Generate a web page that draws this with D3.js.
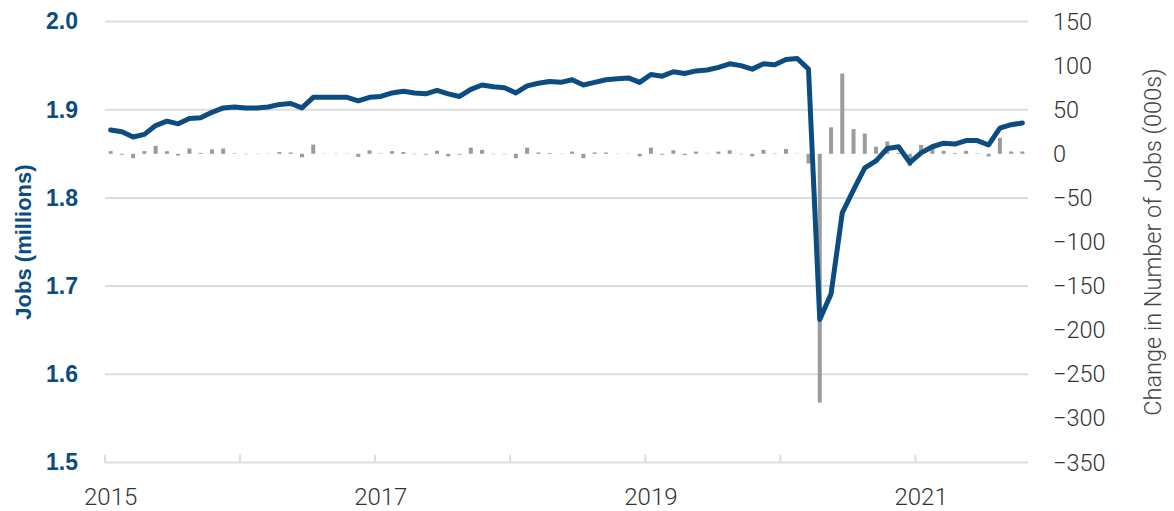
<!DOCTYPE html>
<html>
<head>
<meta charset="utf-8">
<script src="https://cdn.jsdelivr.net/npm/d3@7"></script>
<style>
  body { margin: 0; background: #fff; }
</style>
</head>
<body>
<div id="chart"></div>
<script>
// monthly categories, Jan 2015 - Oct 2021
const months = d3.timeMonth.range(new Date(2015, 0, 1), new Date(2021, 10, 1));

// total jobs (millions)
const jobs = [
  1.877, 1.875, 1.869, 1.872, 1.882, 1.887, 1.884, 1.890, 1.891, 1.897, 1.902, 1.903,
  1.902, 1.902, 1.903, 1.906, 1.907, 1.902, 1.914, 1.914, 1.914, 1.914, 1.910, 1.914,
  1.915, 1.919, 1.921, 1.919, 1.918, 1.922, 1.918, 1.915, 1.923, 1.928, 1.926, 1.925,
  1.919, 1.927, 1.930, 1.932, 1.931, 1.934, 1.928, 1.931, 1.934, 1.935, 1.936, 1.931,
  1.940, 1.938, 1.943, 1.941, 1.944, 1.945, 1.948, 1.952, 1.950, 1.946, 1.952, 1.951,
  1.957, 1.958, 1.946, 1.662, 1.691, 1.783, 1.809, 1.834, 1.842, 1.856, 1.858, 1.840,
  1.851, 1.858, 1.862, 1.861, 1.865, 1.865, 1.860, 1.879, 1.883, 1.885
];

// monthly change in jobs (000s)
const change = [
  3, -1, -5, 3, 9, 3, -2, 6, 1, 5, 6, 0.5,
  -0.5, 0.3, 0.3, 2, 1.5, -4, 10.5, 0.3, 0.3, 0.3, -3.5, 4,
  0.5, 3, 2, -0.5, -1, 3.5, -3, -1, 7, 4.5, -0.5, -0.5,
  -5, 7, 1.5, 1, 0.3, 2.5, -5, 1.5, 1.5, 0.3, 0.3, -3,
  7, -1, 4, -1.5, 2.5, 0.3, 2.5, 4, -0.5, -3, 4.5, 0.5,
  5.5, 0.3, -11, -282, 30, 91, 28, 23, 8, 14, 1, -14,
  10, 6.5, 3.4, 1, 3.4, 0.5, -3, 18, 2.6, 2.6
];

const yearLabels = ["2015", "2017", "2019", "2021"];
const leftTicks = [1.5, 1.6, 1.7, 1.8, 1.9, 2.0];
const rightTicks = [150, 100, 50, 0, -50, -100, -150, -200, -250, -300, -350];

const blue = "#0c4c80";
const grey = "#9b9b9b";
const gridColor = "#dddddd";
const lightFont = "Roboto, 'Liberation Sans', sans-serif";
const boldFont = "'Liberation Sans', Arial, sans-serif";

const W = 1174, H = 511;
const margin = {top: 21.5, right: 146, bottom: 48.5, left: 105};

const svg = d3.select("#chart")
    .append("svg")
    .attr("width", W)
    .attr("height", H);

// Scales
const x = d3.scaleBand()
    .domain(months)
    .range([margin.left, W - margin.right]);
const bw = x.bandwidth();

const yL = d3.scaleLinear()
    .domain([1.5, 2.0])
    .range([H - margin.bottom, margin.top]);

const yR = d3.scaleLinear()
    .domain([-350, 150])
    .range([H - margin.bottom, margin.top]);

// Gridlines
svg.append("g")
    .selectAll("line")
    .data(leftTicks)
    .enter()
    .append("line")
    .attr("x1", margin.left)
    .attr("x2", W - margin.right)
    .attr("y1", d => yL(d))
    .attr("y2", d => yL(d))
    .attr("stroke", gridColor)
    .attr("stroke-width", 2);

// Year ticks on the bottom line (at start of each January)
const januaries = months.filter(m => m.getMonth() === 0);
svg.append("g")
    .selectAll("line")
    .data(januaries)
    .enter()
    .append("line")
    .attr("x1", d => x(d))
    .attr("x2", d => x(d))
    .attr("y1", yL(1.5))
    .attr("y2", yL(1.5) - 8)
    .attr("stroke", gridColor)
    .attr("stroke-width", 2);

// Year labels at the centre of January
svg.append("g")
    .selectAll("text")
    .data(januaries.filter(m => yearLabels.includes(String(m.getFullYear()))))
    .enter()
    .append("text")
    .attr("x", d => x(d) + bw / 2)
    .attr("y", 505)
    .attr("text-anchor", "middle")
    .style("font-family", lightFont)
    .style("font-weight", 300)
    .style("font-size", "24px")
    .style("fill", "#333")
    .text(d => d.getFullYear());

// Left axis labels
const leftAxis = svg.append("g")
    .attr("transform", `translate(${margin.left},0)`)
    .call(d3.axisLeft(yL).tickValues(leftTicks).tickFormat(d3.format(".1f")).tickSize(0).tickPadding(27));
leftAxis.select(".domain").remove();
leftAxis.selectAll("text")
    .style("font-family", boldFont)
    .style("font-weight", "bold")
    .style("font-size", "23px")
    .style("fill", blue);

// Right axis labels
const rightAxis = svg.append("g")
    .attr("transform", `translate(${W - margin.right},0)`)
    .call(d3.axisRight(yR).tickValues(rightTicks).tickSize(0).tickPadding(25));
rightAxis.select(".domain").remove();
rightAxis.selectAll("text")
    .style("font-family", lightFont)
    .style("font-weight", 300)
    .style("font-size", "23.5px")
    .style("fill", "#333");

// Bars for monthly change
svg.append("g")
    .selectAll("rect")
    .data(change)
    .enter()
    .append("rect")
    .attr("x", (d, i) => x(months[i]) + bw / 2 - 2)
    .attr("width", 4)
    .attr("y", d => Math.min(yR(d), yR(0)))
    .attr("height", d => Math.abs(yR(d) - yR(0)))
    .attr("fill", grey);

// Jobs line
const line = d3.line()
    .x((d, i) => x(months[i]) + bw / 2)
    .y(d => yL(d));

svg.append("path")
    .datum(jobs)
    .attr("fill", "none")
    .attr("stroke", blue)
    .attr("stroke-width", 5)
    .attr("stroke-linejoin", "round")
    .attr("stroke-linecap", "round")
    .attr("d", line);

// Axis titles
svg.append("text")
    .attr("transform", `translate(31,${(margin.top + H - margin.bottom) / 2}) rotate(-90)`)
    .attr("text-anchor", "middle")
    .style("font-family", boldFont)
    .style("font-weight", "bold")
    .style("font-size", "22px")
    .style("fill", blue)
    .text("Jobs (millions)");

svg.append("text")
    .attr("transform", `translate(1161,${(margin.top + H - margin.bottom) / 2}) rotate(-90)`)
    .attr("text-anchor", "middle")
    .style("font-family", lightFont)
    .style("font-weight", 300)
    .style("font-size", "23.5px")
    .style("fill", "#444")
    .text("Change in Number of Jobs (000s)");
</script>
</body>
</html>
